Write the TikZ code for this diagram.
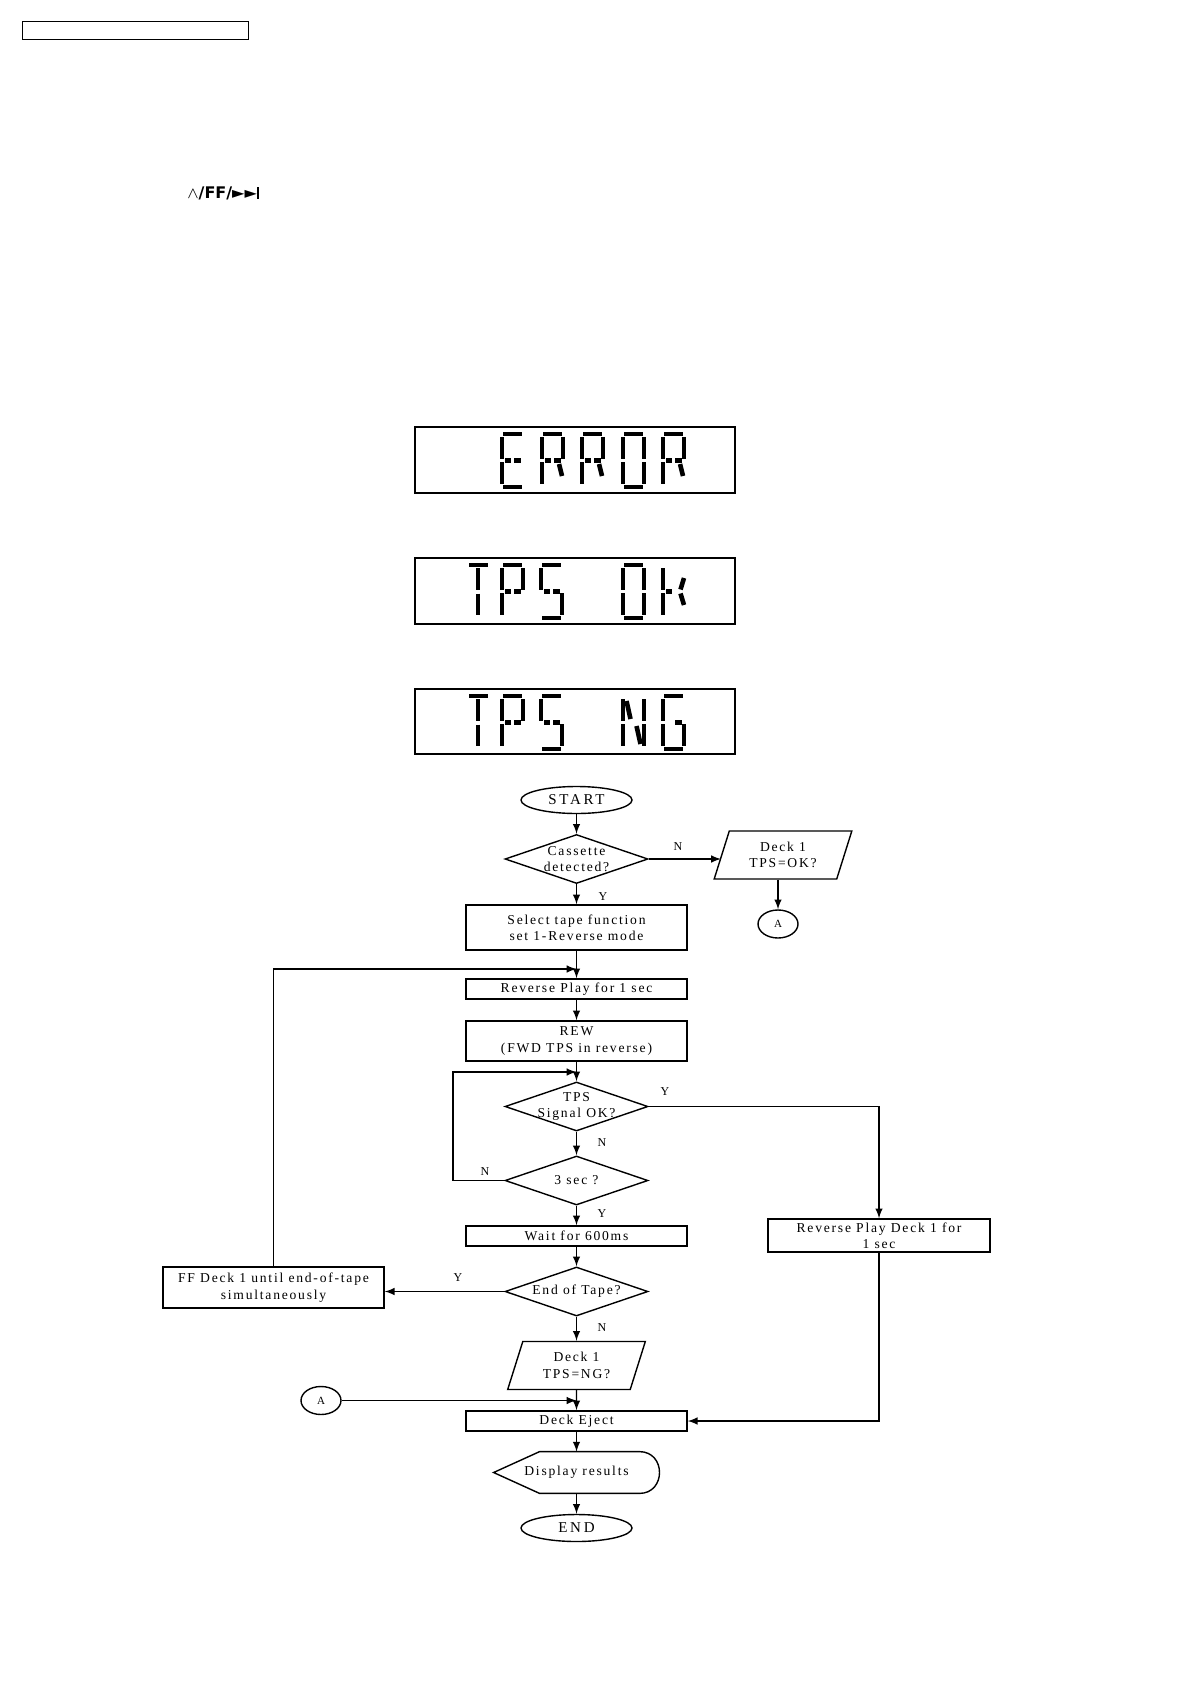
\documentclass[tikz,border=0pt]{standalone}
\usepackage{fontspec}
\setmainfont{Liberation Serif}
\newfontfamily\chartfont[LetterSpace=13]{Liberation Serif}
\newfontfamily\termfont[LetterSpace=18]{Liberation Serif}
\newfontfamily\keyfont{DejaVu Sans}
\usetikzlibrary{shapes.geometric}

\begin{document}
\begin{tikzpicture}[x=0.5pt, y=-0.5pt, >=latex]

% --- Global styles ---
\tikzset{
    chart/.style={font=\chartfont\fontsize{6.8}{8.2}\selectfont, align=center, inner sep=0pt},
    proc/.style={chart, rectangle, draw, line width=0.7pt, minimum width=110.5pt},
    decide/.style={diamond, draw, line width=0.7pt, inner sep=0pt,
        minimum width=71.5pt, minimum height=24.5pt},
    term/.style={ellipse, draw, line width=0.7pt, inner sep=0pt,
        minimum width=55.5pt, minimum height=13.5pt,
        font=\termfont\fontsize{7.5}{9}\selectfont},
    io/.style={chart, trapezium, trapezium left angle=70, trapezium right angle=110,
        trapezium stretches=true, draw, line width=0.7pt,
        minimum width=69pt, minimum height=24pt},
    conn/.style={ellipse, draw, line width=0.7pt, inner sep=0pt,
        minimum width=20pt, minimum height=14pt, font=\fontsize{5.5}{6}\selectfont},
    yn/.style={inner sep=0pt, font=\fontsize{6}{7}\selectfont},
    arrow/.style={->, line width=0.7pt},
    lcdbox/.style={line width=0.75pt},
    lcdseg/.style={line width=2.3pt},
    % segments of one display cell (25 x 57)
    lcd a/.pic={\draw[lcdseg] (3,2) -- (22,2);},
    lcd d/.pic={\draw[lcdseg] (3,55) -- (22,55);},
    lcd f/.pic={\draw[lcdseg] (2,5) -- (2,27);},
    lcd e/.pic={\draw[lcdseg] (2,30) -- (2,52);},
    lcd b/.pic={\draw[lcdseg] (23,5) -- (23,27);},
    lcd c/.pic={\draw[lcdseg] (23,30) -- (23,52);},
    lcd g1/.pic={\draw[lcdseg] (5,28.5) -- (11,28.5);},
    lcd g2/.pic={\draw[lcdseg] (14,28.5) -- (20.5,28.5);},
    lcd i/.pic={\draw[lcdseg] (12,5) -- (12,26.5);},
    lcd l/.pic={\draw[lcdseg] (12,30.5) -- (12,52);},
    lcd m/.pic={\draw[lcdseg] (19,32) -- (22,44);},
    lcd ku/.pic={\draw[lcdseg] (23,15) -- (19.5,26.5);},
    lcd kl/.pic={\draw[lcdseg] (19.5,30.5) -- (23,42);},
    lcd nh/.pic={\draw[lcdseg] (5.5,7) -- (9.5,25);},
    lcd nm/.pic={\draw[lcdseg] (15.5,32) -- (19.5,50);}
}

\useasboundingbox (0,0) rectangle (1190,1684);

% --- Header and key ---
\draw[line width=0.5pt] (22,22) rectangle (248,40);
\node[inner sep=0pt, font=\keyfont\fontsize{8}{9}\selectfont] (key) at (223,193.5)
    {$\wedge$\textbf{/FF/}►►\rule{0.9pt}{6pt}};

% --- Displays ---
\draw[lcdbox] (415,427) rectangle (735,493);
\draw[lcdbox] (415,558) rectangle (735,624);
\draw[lcdbox] (415,689) rectangle (735,754);

% E R R O R / T P S O K / T P S N G
\foreach \cx/\cy/\segs in {
    500/432/{a,f,e,d,g1,g2},
    540/432/{a,f,b,e,g1,g2,m},
    580/432/{a,f,b,e,g1,g2,m},
    621/432/{a,b,c,d,e,f},
    661/432/{a,f,b,e,g1,g2,m},
    466/563/{a,i,l},
    500/563/{a,f,b,e,g1,g2},
    539/563/{a,f,g1,g2,c,d},
    621/563/{a,b,c,d,e,f},
    661/563/{f,e,g1,ku,kl},
    466/694/{a,i,l},
    500/694/{a,f,b,e,g1,g2},
    539/694/{a,f,g1,g2,c,d},
    621/694/{f,e,b,c,nh,nm},
    661/694/{a,f,e,d,c,g2}%
}{
    \foreach \s in \segs {\pic at (\cx,\cy) {lcd \s};}
}

% --- Flowchart: main column ---
\node[term] (start) at (576.5,800) {START};
\node[decide, label={[chart]center:{Cassette\\detected?}}] (cas) at (576.5,859) {};
\node[proc, minimum height=22.5pt] (sel) at (576.5,927.5) {Select tape function\\set 1-Reverse mode};
\node[proc, minimum height=10pt] (rplay) at (576.5,989) {Reverse Play for 1 sec};
\node[proc, minimum height=20pt] (rew) at (576.5,1041) {REW\\(FWD TPS in reverse)};
\node[decide, label={[chart]center:{TPS\\Signal OK?}}] (tps) at (576.5,1106.5) {};
\node[decide, label={[chart]center:{3 sec ?}}] (tsec) at (576.5,1180.5) {};
\node[proc, minimum height=10pt] (wait) at (576.5,1236) {Wait for 600ms};
\node[decide, label={[chart]center:{End of Tape?}}] (eot) at (576.5,1291.5) {};
\node[io] (tpsng) at (576.5,1365.5) {Deck 1\\TPS=NG?};
\node[proc, minimum height=10pt] (eject) at (576.5,1421) {Deck Eject};
\node[chart, minimum width=82.5pt, minimum height=20.5pt] (disp) at (576.5,1472.5) {Display results};
\node[term] (stop) at (576.5,1528) {END};

% --- Side branches ---
\node[io] (tpsok) at (783,855) {Deck 1\\TPS=OK?};
\node[conn] (conA) at (778,924) {A};
\node[conn] (conB) at (321,1400.5) {A};
\node[proc, minimum width=111pt, minimum height=16.5pt] (rpd) at (879,1235.5) {Reverse Play Deck 1 for\\1 sec};
\node[proc, minimum height=20.5pt] (ffd) at (273.5,1287.5) {FF Deck 1 until end-of-tape\\simultaneously};

% display symbol outline
\draw[line width=0.7pt] (disp.west) -- ([xshift=23pt]disp.north west) -- ([xshift=-10pt]disp.north east)
    .. controls ([xshift=3.4pt]disp.north east) and ([xshift=3.4pt]disp.south east) .. ([xshift=-10pt]disp.south east)
    -- ([xshift=23pt]disp.south west) -- cycle;

% --- Junctions ---
\coordinate (j1) at (576.5,969);
\coordinate (j2) at (576.5,1072);
\coordinate (loopc) at (453,1072);
\coordinate (j3) at (576.5,1400.5);

% --- Connectors ---
\draw[arrow] (start) -- (cas);
\draw[arrow] (cas.east) -- (cas.east -| tpsok.west);
\draw[arrow] (tpsok.south -| conA) -- (conA);
\draw[arrow] (cas) -- (sel);
\draw[arrow] (sel) -- (rplay);
\draw[arrow] (ffd.north) |- (j1);
\draw[arrow] (rplay) -- (rew);
\draw[arrow] (rew) -- (tps);
\draw[arrow] (tps) -- (tsec);
\draw[arrow] (tsec.west) -| (loopc) -- (j2);
\draw[arrow] (tps.east) -| (rpd.north);
\draw[arrow] (tsec) -- (wait);
\draw[arrow] (wait) -- (eot);
\draw[arrow] (eot.west) -- (eot.west -| ffd.east);
\draw[arrow] (eot) -- (tpsng);
\draw[arrow] (tpsng) -- (eject);
\draw[arrow] (conB) -- (j3);
\draw[arrow] (rpd.south) |- (eject.east);
\draw[arrow] (eject) -- (disp);
\draw[arrow] (disp) -- (stop);

% --- Branch labels ---
\node[yn] (nCas) at (678,847) {N};
\node[yn] (yCas) at (603,897) {Y};
\node[yn] (yTps) at (665,1092) {Y};
\node[yn] (nTps) at (602,1143) {N};
\node[yn] (nSec) at (485,1172) {N};
\node[yn] (ySec) at (602,1214) {Y};
\node[yn] (yEot) at (458,1278) {Y};
\node[yn] (nEot) at (602,1328) {N};

\end{tikzpicture}
\end{document}
